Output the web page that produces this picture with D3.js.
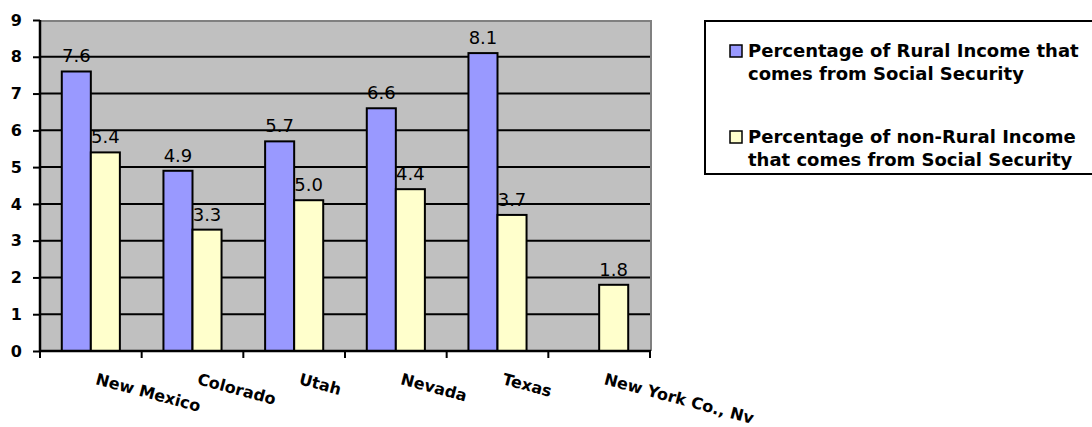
<!DOCTYPE html>
<html>
<head>
<meta charset="utf-8">
<script src="https://cdn.jsdelivr.net/npm/d3@7"></script>
<style>
  body { margin: 0; background: #fff; }
  svg { display: block; font-family: "DejaVu Sans", Verdana, sans-serif; }
</style>
</head>
<body>
<div id="chart"></div>
<script>
// chart data
const categories = ["New Mexico", "Colorado", "Utah", "Nevada", "Texas", "New York Co., Nv"];
const ruralValues = [7.6, 4.9, 5.7, 6.6, 8.1, null];
const nonRuralValues = [5.4, 3.3, 4.1, 4.4, 3.7, 1.8];
const ruralLabels = ["7.6", "4.9", "5.7", "6.6", "8.1", ""];
const nonRuralLabels = ["5.4", "3.3", "5.0", "4.4", "3.7", "1.8"];
const yTicks = [0, 1, 2, 3, 4, 5, 6, 7, 8, 9];
const seriesNames = [
  ["Percentage of Rural Income that", "comes from Social Security"],
  ["Percentage of non-Rural Income", "that comes from Social Security"]
];
const seriesColors = ["#9999FF", "#FFFFCC"];

let W = 1092, H = 427;
let plot = {left: 40, right: 650, top: 20, bottom: 351};
let fontFam = "'DejaVu Sans', Verdana, sans-serif";

let svg = d3.select("#chart").append("svg")
  .attr("width", W)
  .attr("height", H);

let x = d3.scaleBand()
  .domain(categories)
  .range([plot.left, plot.right]);

let x1 = d3.scaleBand()
  .domain([0, 1])
  .range([0, x.bandwidth()])
  .paddingInner(0)
  .paddingOuter(0.75);

let y = d3.scaleLinear()
  .domain([0, 9])
  .range([plot.bottom, plot.top]);

// plot background
svg.append("rect")
  .attr("x", plot.left)
  .attr("y", plot.top)
  .attr("width", plot.right - plot.left)
  .attr("height", plot.bottom - plot.top)
  .attr("fill", "#C0C0C0");

// grid lines
svg.append("g").selectAll("line")
  .data(yTicks.filter(d => d > 0 && d < 9))
  .enter().append("line")
  .attr("x1", plot.left).attr("x2", plot.right)
  .attr("y1", d => y(d)).attr("y2", d => y(d))
  .attr("stroke", "#000").attr("stroke-width", 2);

// plot border top / right
svg.append("path")
  .attr("d", `M${plot.left},${plot.top + 1}H${plot.right + 1}V${plot.bottom}`)
  .attr("fill", "none")
  .attr("stroke", "#808080")
  .attr("stroke-width", 2);

// bars
let rows = categories.map((c, i) => ({cat: c, vals: [ruralValues[i], nonRuralValues[i]], labels: [ruralLabels[i], nonRuralLabels[i]]}));

let groups = svg.append("g").selectAll("g")
  .data(rows)
  .enter().append("g")
  .attr("transform", d => `translate(${x(d.cat)},0)`);

groups.selectAll("rect")
  .data(d => d.vals.map((v, s) => ({v: v, s: s})).filter(e => e.v != null))
  .enter().append("rect")
  .attr("x", d => x1(d.s))
  .attr("y", d => y(d.v))
  .attr("width", x1.bandwidth())
  .attr("height", d => y(0) - y(d.v))
  .attr("fill", d => seriesColors[d.s])
  .attr("stroke", "#000")
  .attr("stroke-width", 2);

groups.selectAll("text")
  .data(d => d.vals.map((v, s) => ({v: v, s: s, t: d.labels[s]})).filter(e => e.v != null))
  .enter().append("text")
  .attr("x", d => x1(d.s) + x1.bandwidth() / 2)
  .attr("y", d => y(d.v) - 9)
  .attr("text-anchor", "middle")
  .style("font-size", "18px")
  .attr("fill", "#000")
  .text(d => d.t);

// y axis
let yAxis = svg.append("g")
  .attr("transform", `translate(${plot.left},0)`)
  .call(d3.axisLeft(y).tickValues(yTicks).tickSize(7).tickPadding(11).tickFormat(d3.format("d")));
yAxis.select(".domain").attr("stroke-width", 2.5).attr("d", `M0,${plot.top}V${plot.bottom}`);
yAxis.selectAll(".tick line").attr("stroke-width", 2);
yAxis.selectAll(".tick text")
  .style("font-size", "16px")
  .style("font-weight", "bold")
  .style("font-family", fontFam)
  .attr("fill", "#000");

// x axis
let xAxis = svg.append("g")
  .attr("transform", `translate(0,${plot.bottom})`);
xAxis.append("line")
  .attr("x1", plot.left).attr("x2", plot.right + 1)
  .attr("stroke", "#000").attr("stroke-width", 2.5);
xAxis.selectAll(".xtick")
  .data(categories.map(c => x(c)).concat([plot.right]))
  .enter().append("line")
  .attr("x1", d => d).attr("x2", d => d)
  .attr("y1", 0).attr("y2", 7)
  .attr("stroke", "#000").attr("stroke-width", 2);
xAxis.selectAll("text")
  .data(categories)
  .enter().append("text")
  .attr("transform", d => `translate(${x(d) + x.bandwidth() / 2 + 4},${33}) rotate(15)`)
  .style("font-size", "16px")
  .style("font-weight", "bold")
  .attr("fill", "#000")
  .text(d => d);

// legend
let legend = svg.append("g");
legend.append("rect")
  .attr("x", 705).attr("y", 21)
  .attr("width", 400).attr("height", 153)
  .attr("fill", "#fff")
  .attr("stroke", "#000")
  .attr("stroke-width", 2);

let items = legend.selectAll("g.item")
  .data(seriesNames)
  .enter().append("g")
  .attr("class", "item")
  .attr("transform", (d, i) => `translate(730,${45 + i * 86})`);
items.append("rect")
  .attr("width", 12).attr("height", 12)
  .attr("fill", (d, i) => seriesColors[i])
  .attr("stroke", "#000")
  .attr("stroke-width", 1.5);
items.append("text")
  .attr("x", 18)
  .attr("y", 12)
  .style("font-size", "18px")
  .style("font-weight", "bold")
  .attr("fill", "#000")
  .selectAll("tspan")
  .data(d => d)
  .enter().append("tspan")
  .attr("x", 18)
  .attr("dy", (d, i) => i === 0 ? 0 : 23)
  .text(d => d);
</script>
</body>
</html>
